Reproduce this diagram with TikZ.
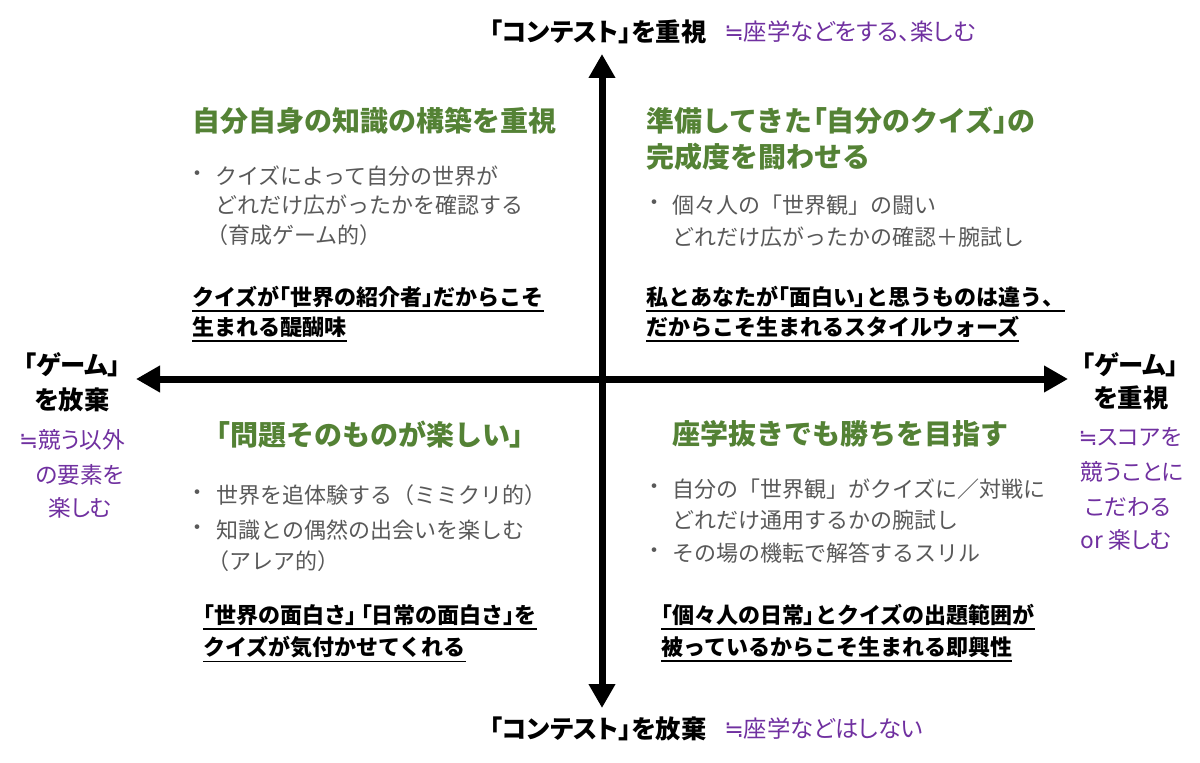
\documentclass[tikz,border=0pt]{standalone}
\usepackage{fontspec}
\setmainfont{Noto Sans CJK JP}
\newfontfamily\jpp{Noto Sans CJK JP}[RawFeature=+palt]
\newfontfamily\symf{DejaVu Sans}
\newcommand{\qne}{{\symf ≒}}
\newcommand{\qlb}{{\jpp 「}}
\newcommand{\qrb}{{\jpp 」}}
\usetikzlibrary{arrows.meta}
\definecolor{qgreen}{HTML}{548235}
\definecolor{qpurple}{HTML}{7030A0}
\definecolor{qgray}{HTML}{595959}
\begin{document}
\begin{tikzpicture}[x=0.75pt,y=-0.75pt,
  axislbl/.style={font=\jpp\bfseries\fontsize{19}{23}\selectfont, text=black, inner sep=0},
  purp/.style={font=\jpp\fontsize{17.5}{21}\selectfont, text=qpurple, inner sep=0},
  purpside/.style={font=\jpp\fontsize{17}{21}\selectfont, text=qpurple, inner sep=0},
  ghead/.style={font=\bfseries\fontsize{21}{25}\selectfont, text=qgreen, inner sep=0, anchor=west},
  gtxt/.style={font=\fontsize{16.5}{19}\selectfont, text=qgray, inner sep=0, anchor=west},
  btxt/.style={font=\bfseries\fontsize{16.5}{20}\selectfont, text=black, inner sep=0, anchor=west},
  uline/.style={line width=1.4pt},
  axisline/.style={line width=5.25pt, {Triangle[length=18pt,width=19pt]}-{Triangle[length=18pt,width=19pt]}}
]
\path[use as bounding box, fill=white] (0,0) rectangle (1200,763);

% axes
\coordinate (ytop) at (602,54);
\coordinate (ybot) at (602,708);
\coordinate (xleft) at (136,379);
\coordinate (xright) at (1068,379);
\draw[axisline] (ybot) -- (ytop);
\draw[axisline] (xleft) -- (xright);

% axis labels
\node[axislbl] (tl) at (598,32) {「コンテスト」を重視};
\node[purp, anchor=west] (tp) at (724,32) {\qne 座学などをする、楽しむ};
\node[axislbl] (bl) at (598,729) {「コンテスト」を放棄};
\node[purp, anchor=west] (bp) at (724,729) {\qne 座学などはしない};

\node[axislbl] (l1) at (72,365) {「ゲーム」};
\node[axislbl] (l2) at (72,400) {を放棄};
\node[purpside] (l3) at (72,440) {\qne 競う以外};
\node[purpside] (l4) at (80,475) {の要素を};
\node[purpside] (l5) at (80,508) {楽しむ};

\node[axislbl] (r1) at (1130,365) {「ゲーム」};
\node[axislbl] (r2) at (1131,398) {を重視};
\node[purpside] (r3) at (1130,437) {\qne スコアを};
\node[purpside] (r4) at (1132,472) {競うことに};
\node[purpside] (r5) at (1128,507) {こだわる};
\node[purpside] (r6) at (1126,540) {or 楽しむ};

% top-left quadrant
\node[ghead] (h1) at (192,121) {自分自身の知識の構築を重視};
\node[gtxt] (a1) at (186,176) {・};
\node[gtxt] (a2) at (215,176) {クイズによって自分の世界が};
\node[gtxt] (a3) at (215,205) {どれだけ広がったかを確認する};
\node[gtxt] (a4) at (206,235) {（育成ゲーム的）};
\node[btxt] (b1) at (192,297) {クイズが\qlb 世界の紹介者\qrb だからこそ};
\node[btxt] (b2) at (192,327) {生まれる醍醐味};

% top-right quadrant
\node[ghead] (h2) at (646,121) {準備してきた\qlb 自分のクイズ\qrb の};
\node[ghead] (h3) at (646,157) {完成度を闘わせる};
\node[gtxt] (c1) at (643,205) {・};
\node[gtxt] (c2) at (672,205) {個々人の「世界観」の闘い};
\node[gtxt] (c3) at (672,237) {どれだけ広がったかの確認＋腕試し};
\node[btxt] (b3) at (646,297) {私とあなたが\qlb 面白い\qrb と思うものは違う、};
\node[btxt] (b4) at (646,327) {だからこそ生まれるスタイルウォーズ};

% bottom-left quadrant
\node[ghead] (h4) at (216,435) {\qlb 問題そのものが楽しい\qrb};
\node[gtxt] (d1) at (186,495) {・};
\node[gtxt] (d2) at (216,495) {世界を追体験する（ミミクリ的）};
\node[gtxt] (d3) at (186,530) {・};
\node[gtxt] (d4) at (216,530) {知識との偶然の出会いを楽しむ};
\node[gtxt] (d5) at (207,561) {（アレア的）};
\node[btxt] (b5) at (203,615) {\qlb 世界の面白さ\qrb\,\qlb 日常の面白さ\qrb を};
\node[btxt] (b6) at (203,647) {クイズが気付かせてくれる};

% bottom-right quadrant
\node[ghead] (h5) at (672,434) {座学抜きでも勝ちを目指す};
\node[gtxt] (e1) at (643,489) {・};
\node[gtxt] (e2) at (672,489) {自分の「世界観」がクイズに／対戦に};
\node[gtxt] (e3) at (672,520) {どれだけ通用するかの腕試し};
\node[gtxt] (e4) at (643,553) {・};
\node[gtxt] (e5) at (672,553) {その場の機転で解答するスリル};
\node[btxt] (b7) at (661,615) {\qlb 個々人の日常\qrb とクイズの出題範囲が};
\node[btxt] (b8) at (661,647) {被っているからこそ生まれる即興性};

% underlines
\foreach \n in {b1,b2,b3,b4,b5,b6,b7,b8}{
  \draw[uline] ([yshift=-2.5pt]\n.south west) -- ([yshift=-2.5pt]\n.south east);
}
\end{tikzpicture}
\end{document}
